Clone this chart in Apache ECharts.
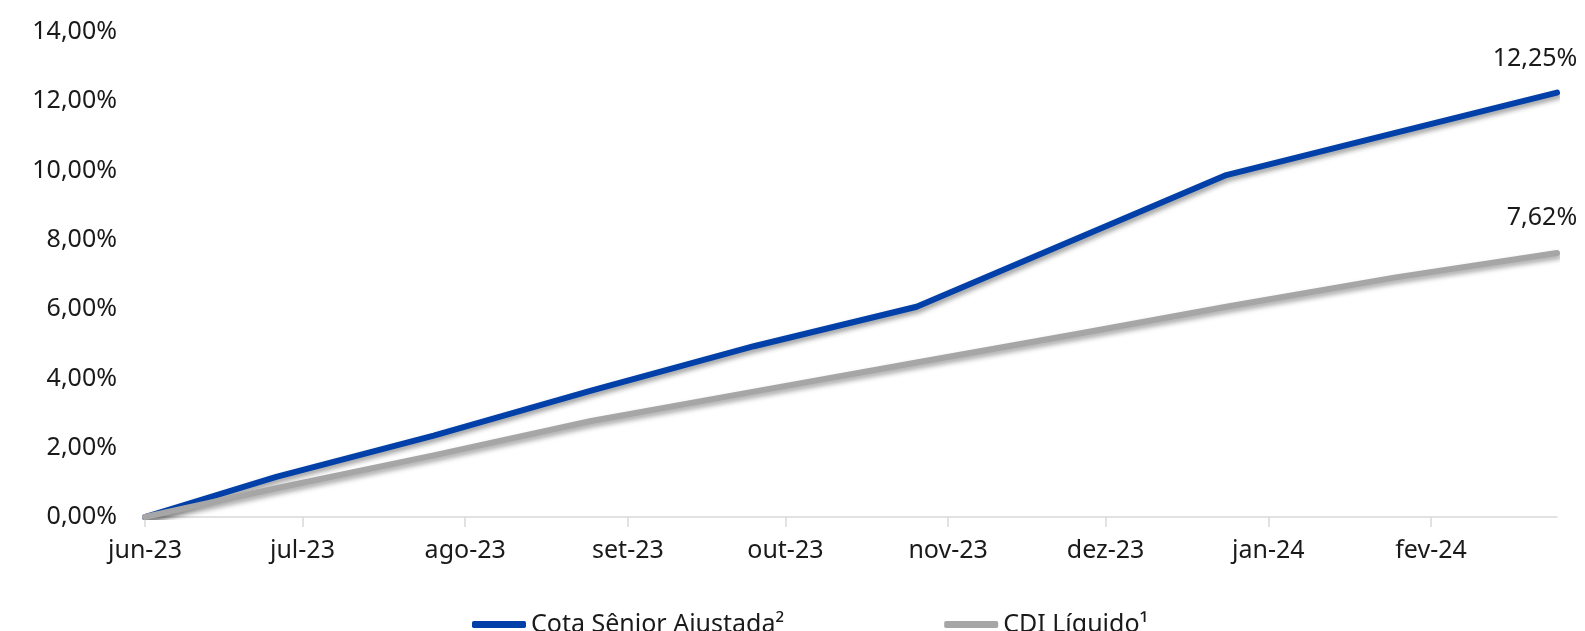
<!DOCTYPE html>
<html>
<head>
<meta charset="utf-8">
<script src="https://cdn.jsdelivr.net/npm/echarts@6/dist/echarts.min.js"></script>
<style>
  html, body { margin: 0; padding: 0; background: #fff; }
  #main { width: 1585px; height: 631px; }
</style>
</head>
<body>
<div id="main"></div>
<script>
// datas das cotas (aprox.)
var datas = [
  "2023-06-01", "2023-06-26", "2023-07-26", "2023-08-25", "2023-09-25",
  "2023-10-26", "2023-11-25", "2023-12-24", "2024-01-25", "2024-02-25"
];
var cotaSenior = [0, 1.16, 2.35, 3.65, 4.93, 6.07, 8.00, 9.87, 11.08, 12.25];
var cdiLiquido = [0, 0.83, 1.78, 2.77, 3.62, 4.46, 5.27, 6.07, 6.91, 7.62];
var meses = ["jan", "fev", "mar", "abr", "mai", "jun", "jul", "ago", "set", "out", "nov", "dez"];
var marcas = ["2023-06-01", "2023-07-01", "2023-08-01", "2023-09-01", "2023-10-01",
  "2023-11-01", "2023-12-01", "2024-01-01", "2024-02-01"];

function ts(s) {
  var p = s.split("-");
  return new Date(+p[0], +p[1] - 1, +p[2]).getTime();
}
function pct(v) {
  return v.toFixed(2).replace(".", ",") + "%";
}

var dom = document.getElementById("main");
var myChart = echarts.init(dom);
var fonte = "'Noto Sans', 'Open Sans', sans-serif";
var ticksX = marcas.map(ts);

var option = {
  animation: false,
  textStyle: { fontFamily: fonte },
  grid: { left: 145, right: 28, top: 32, bottom: 114 },
  legend: {
    left: 467,
    top: 607,
    itemWidth: 54,
    itemHeight: 7,
    itemGap: 160,
    icon: "roundRect",
    textStyle: { fontSize: 25, color: "#1a1a1a", fontFamily: fonte },
    data: ["Cota Sênior Ajustada²", "CDI Líquido¹"]
  },
  xAxis: {
    type: "value",
    min: ts(datas[0]),
    max: ts(datas[datas.length - 1]),
    axisLine: { lineStyle: { color: "#d9d9d9", width: 1.5 } },
    axisTick: {
      show: true,
      length: 10,
      customValues: ticksX,
      lineStyle: { color: "#d9d9d9", width: 1.5 }
    },
    axisLabel: {
      customValues: ticksX,
      fontSize: 25,
      color: "#1a1a1a",
      margin: 21,
      formatter: function(v) {
        var d = new Date(v);
        return meses[d.getMonth()] + "-" + String(d.getFullYear()).slice(2);
      }
    },
    splitLine: { show: false }
  },
  yAxis: {
    type: "value",
    min: 0,
    max: 14,
    interval: 2,
    axisLine: { show: false },
    axisTick: { show: false },
    splitLine: { show: false },
    axisLabel: {
      fontSize: 25,
      color: "#1a1a1a",
      margin: 28,
      formatter: function(v) { return pct(v); }
    }
  },
  series: [
    {
      name: "Cota Sênior Ajustada²",
      type: "line",
      showSymbol: false,
      symbol: "none",
      color: "#0040A8",
      data: datas.map(function(d, i) { return [ts(d), cotaSenior[i]]; }),
      lineStyle: {
        width: 6,
        cap: "round",
        join: "round",
        shadowColor: "rgba(0,0,0,0.4)",
        shadowBlur: 5,
        shadowOffsetX: 2,
        shadowOffsetY: 3
      },
      endLabel: {
        show: true,
        distance: 0,
        align: "center",
        verticalAlign: "middle",
        offset: [-22, -34],
        fontSize: 25,
        color: "#1a1a1a",
        formatter: function(p) { return pct(p.value[1]); }
      }
    },
    {
      name: "CDI Líquido¹",
      type: "line",
      showSymbol: false,
      symbol: "none",
      color: "#A6A6A6",
      data: datas.map(function(d, i) { return [ts(d), cdiLiquido[i]]; }),
      lineStyle: {
        width: 6,
        cap: "round",
        join: "round",
        shadowColor: "rgba(0,0,0,0.35)",
        shadowBlur: 5,
        shadowOffsetX: 2,
        shadowOffsetY: 3
      },
      endLabel: {
        show: true,
        distance: 0,
        align: "center",
        verticalAlign: "middle",
        offset: [-15, -35],
        fontSize: 25,
        color: "#1a1a1a",
        formatter: function(p) { return pct(p.value[1]); }
      }
    }
  ]
};
if (option && typeof option === "object") {
  myChart.setOption(option, true);
}
</script>
</body>
</html>
